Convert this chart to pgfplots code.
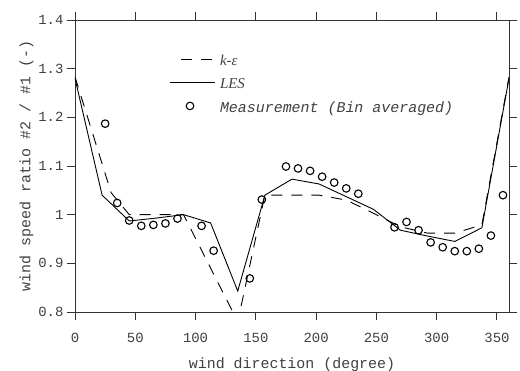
\documentclass[border=0pt]{standalone}
\usepackage{pgfplots}
\pgfplotsset{compat=1.18}
\usepackage{fontspec}
\setmainfont{Liberation Mono}
\newfontfamily\timesfont{Liberation Serif}
\begin{document}
\begin{tikzpicture}[x=1bp,y=1bp]
\begin{axis}[
  scale only axis,
  width=434bp, height=292bp,
  xmin=0, xmax=360, ymin=0.8, ymax=1.4,
  xtick={0,50,...,350},
  ytick={0.8,0.9,1,1.1,1.2,1.3,1.4},
  yticklabels={0.8,0.9,1,1.1,1.2,1.3,1.4},
  tick align=outside,
  major tick length=8bp,
  tick pos=both,
  xticklabel pos=lower, yticklabel pos=left,
  axis line style={black!80, line width=0.9bp},
  tick style={black!80, line width=0.9bp},
  /pgf/number format/assume math mode=true,
  ticklabel style={font=\fontsize{14}{16}\selectfont, text=black!75},
  xticklabel style={yshift=-10bp},
  label style={font=\fontsize{15}{17}\selectfont, text=black!75},
  xlabel={wind direction (degree)},
  ylabel={wind speed ratio \#2 / \#1 (-)},
  xlabel style={yshift=-8bp},
  ylabel style={yshift=-2bp},
  legend cell align=left,
  legend style={at={(0.212,0.885)}, anchor=north west, draw=none, fill=none,
    font=\fontsize{15}{17}\selectfont\itshape, text=black!75,
    row sep=7.5bp, inner sep=0pt, outer sep=0pt},
]
\addplot[black, line width=0.9bp, dash pattern=on 11bp off 9bp,
  legend image code/.code={\path[draw=none] (0,-6bp) rectangle (51bp,6bp);
    \draw[black, line width=0.9bp, dash pattern=on 11bp off 9bp] (14bp,2bp) -- (45bp,2bp);}]
  coordinates {
  (0,1.283) (30,1.045) (45,1.0) (90,1.0) (135,0.78) (157.5,1.04)
  (202.5,1.04) (225,1.03) (247.5,1.003) (270,0.975) (292.5,0.962)
  (315,0.962) (337.5,0.979) (360,1.283)};
\addlegendentry{{\timesfont k-ε}}
\addplot[black, line width=0.9bp,
  legend image code/.code={\path[draw=none] (0,-6bp) rectangle (51bp,6bp);
    \draw[black, line width=0.9bp] (3bp,2bp) -- (48bp,2bp);}]
  coordinates {
  (0,1.28) (22.5,1.04) (45,0.987) (67.5,0.993) (90,1.0) (112.5,0.983)
  (135,0.843) (157.5,1.04) (180,1.073) (202.5,1.063) (225,1.037)
  (247.5,1.011) (270,0.968) (292.5,0.956) (315,0.945) (337.5,0.973)
  (360,1.28)};
\addlegendentry{{\timesfont LES}}
\addplot[only marks, mark=o, mark size=3.8bp, mark options={black, line width=1.1bp},
  legend image code/.code={\path[draw=none] (0,-6bp) rectangle (51bp,6bp);
    \draw[black, line width=1.1bp] (23bp,2bp) circle (3.8bp);}]
  coordinates {
  (25,1.187) (35,1.024) (45,0.988) (55,0.977) (65,0.979) (75,0.982)
  (85,0.992) (105,0.977) (115,0.926) (145,0.869) (155,1.031)
  (175,1.099) (185,1.095) (195,1.090) (205,1.078) (215,1.066)
  (225,1.054) (235,1.043) (265,0.974) (275,0.985) (285,0.968)
  (295,0.943) (305,0.933) (315,0.925) (325,0.925) (335,0.930)
  (345,0.957) (355,1.040)};
\addlegendentry{Measurement (Bin averaged)}
\end{axis}
\pgfresetboundingbox
\path[use as bounding box] ([shift={(-75bp,-59bp)}]current axis.south west) rectangle ([shift={(11bp,20bp)}]current axis.north east);
\end{tikzpicture}
\end{document}
